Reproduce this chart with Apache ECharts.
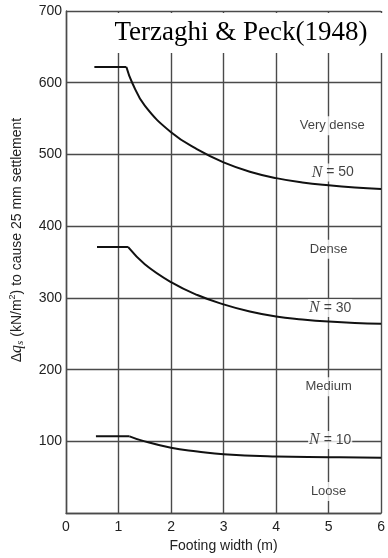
<!DOCTYPE html>
<html>
<head>
<meta charset="utf-8">
<script src="https://cdn.jsdelivr.net/npm/echarts@6/dist/echarts.min.js"></script>
<style>
  html, body { margin: 0; padding: 0; background: #fff; }
  #chart { width: 388px; height: 558px; }
</style>
</head>
<body>
<div id="chart"></div>
<script>
// Axis ranges (footing width in m, allowable pressure in kN/m2)
const xMin = 0, xMax = 6, xStep = 1;
const yMin = 0, yMax = 700, yStep = 100;

// Plateau for narrow footings, then the curve for wider ones
const flat50 = [[0.54, 622], [1.15, 622]];
const curve50 = [[1.15, 622], [1.26, 600], [1.5, 568], [2.0, 531], [2.5, 507], [3.0, 489], [3.5, 476], [4.0, 467], [4.5, 461], [5.0, 457], [5.5, 454], [6.0, 452]];

const flat30 = [[0.59, 371], [1.18, 371]];
const curve30 = [[1.18, 371], [1.5, 347], [2.0, 322], [2.5, 304], [3.0, 291], [3.5, 281], [4.0, 274], [4.5, 270], [5.0, 267], [5.5, 265], [6.0, 264]];

const flat10 = [[0.57, 107], [1.21, 107]];
const curve10 = [[1.21, 107], [1.45, 101], [2.0, 91], [2.5, 86], [3.0, 82], [4.0, 79], [5.0, 78], [6.0, 77]];

// Density class labels
const zoneLabels = [
  [5.07, 540, 'Very dense'],
  [5.0, 368, 'Dense'],
  [5.0, 176, 'Medium'],
  [5.0, 30, 'Loose']
];

// Blow-count labels on each curve
const nLabels = [
  [5.08, 475, '50'],
  [5.03, 286, '30'],
  [5.03, 102, '10']
];

const titleText = 'Terzaghi & Peck(1948)';
const xName = 'Footing width (m)';

const gridColor = '#4a4a4a';
const textColor = '#222';
const sans = '"Liberation Sans", Arial, sans-serif';
const serif = '"Liberation Serif", "Times New Roman", serif';

const chart = echarts.init(document.getElementById('chart'), null, { renderer: 'canvas' });

function curveSeries(data, smooth) {
  return {
    type: 'line',
    data: data,
    smooth: smooth,
    symbol: 'none',
    lineStyle: { color: '#111', width: 2 },
    z: 5,
    silent: true
  };
}

const option = {
  animation: false,
  backgroundColor: '#fff',
  grid: { left: 66, right: 1, top: 11, bottom: 42, containLabel: false },
  xAxis: {
    type: 'value',
    min: xMin, max: xMax, interval: xStep,
    name: xName,
    nameLocation: 'middle',
    nameGap: 24,
    nameTextStyle: { fontFamily: sans, fontSize: 14, color: textColor },
    axisLine: { show: true, lineStyle: { color: gridColor, width: 1.4 } },
    axisTick: { show: false },
    axisLabel: { fontFamily: sans, fontSize: 14, color: textColor, margin: 7 },
    splitLine: { show: true, lineStyle: { color: gridColor, width: 1.4 } }
  },
  yAxis: {
    type: 'value',
    min: yMin, max: yMax, interval: yStep,
    axisLine: { show: true, lineStyle: { color: gridColor, width: 1.4 } },
    axisTick: { show: false },
    axisLabel: {
      fontFamily: sans, fontSize: 14, color: textColor, margin: 4,
      formatter: v => (v === 0 ? '' : String(v))
    },
    splitLine: { show: true, lineStyle: { color: gridColor, width: 1.4 } }
  },
  series: [
    curveSeries(flat50, false),
    curveSeries(curve50, 0.45),
    curveSeries(flat30, false),
    curveSeries(curve30, 0.45),
    curveSeries(flat10, false),
    curveSeries(curve10, 0.45),
    {
      type: 'scatter',
      data: zoneLabels,
      symbolSize: 1,
      itemStyle: { color: 'transparent' },
      silent: true,
      z: 8,
      label: {
        show: true,
        position: 'inside',
        formatter: p => p.data[2],
        fontFamily: sans,
        fontSize: 13,
        color: '#111',
        backgroundColor: '#fff',
        padding: [3, 2]
      }
    },
    {
      type: 'scatter',
      data: nLabels,
      symbolSize: 1,
      itemStyle: { color: 'transparent' },
      silent: true,
      z: 8,
      label: {
        show: true,
        position: 'inside',
        formatter: p => '{n|N} = ' + p.data[2],
        fontFamily: sans,
        fontSize: 14,
        color: '#111',
        backgroundColor: '#fff',
        padding: [1, 1],
        rich: {
          n: { fontFamily: serif, fontStyle: 'italic', fontSize: 16, color: '#111' }
        }
      }
    }
  ],
  graphic: [
    {
      type: 'rect',
      z: 100,
      shape: { x: 104, y: 13, width: 279, height: 40 },
      style: { fill: '#fff' },
      silent: true
    },
    {
      type: 'text',
      z: 101,
      x: 241,
      y: 33,
      style: {
        text: titleText,
        font: '27px ' + serif,
        fill: '#000',
        align: 'center',
        verticalAlign: 'middle'
      },
      silent: true
    },
    {
      type: 'text',
      z: 101,
      x: 17,
      y: 240,
      rotation: Math.PI / 2,
      style: {
        text: 'Δ{q|q}{s|s} (kN/m{p|2}) to cause 25 mm settlement',
        fontFamily: sans,
        fontSize: 14,
        lineHeight: 18,
        fill: textColor,
        align: 'center',
        verticalAlign: 'middle',
        rich: {
          q: { fontFamily: serif, fontStyle: 'italic', fontSize: 16, lineHeight: 18, fill: textColor },
          s: { fontFamily: serif, fontStyle: 'italic', fontSize: 11, lineHeight: 11, verticalAlign: 'bottom', fill: textColor },
          p: { fontFamily: sans, fontSize: 9, lineHeight: 9, verticalAlign: 'top', fill: textColor }
        }
      },
      silent: true
    }
  ]
};

chart.setOption(option);
</script>
</body>
</html>
